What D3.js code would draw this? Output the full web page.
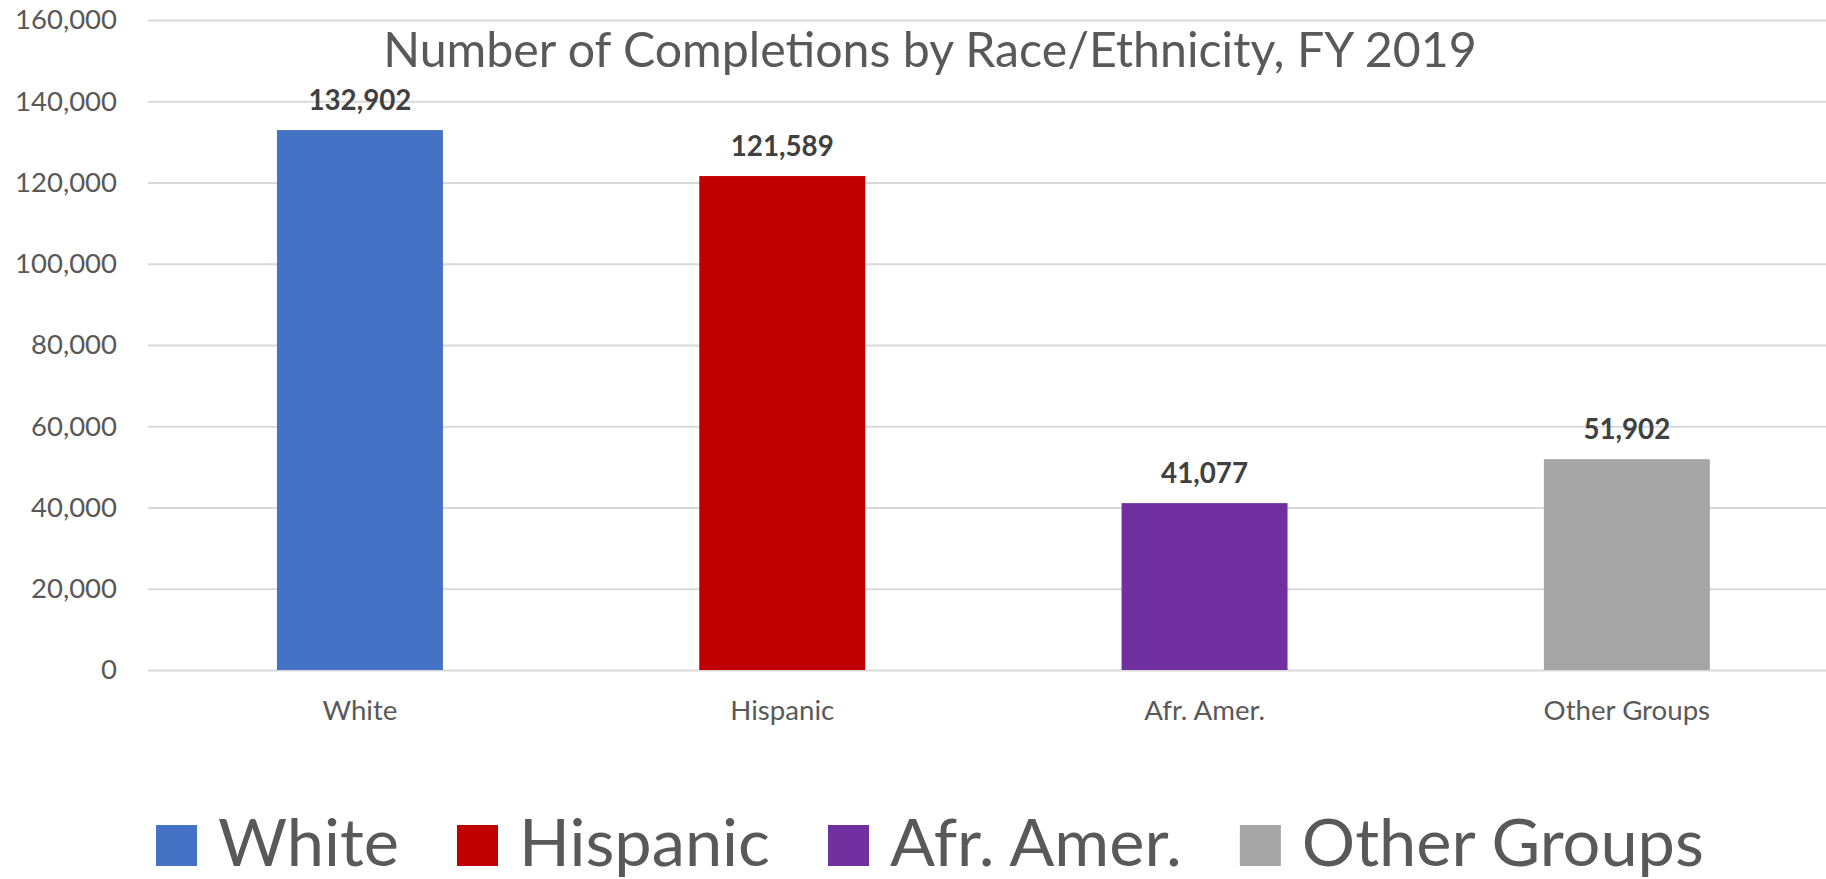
<!DOCTYPE html>
<html>
<head>
<meta charset="utf-8">
<script src="https://cdn.jsdelivr.net/npm/d3@7"></script>
<style>
  html, body { margin: 0; padding: 0; background: #ffffff; }
  svg { display: block; }
</style>
</head>
<body>
<svg id="chart" width="1826" height="879"></svg>
<script>
// ---- Data ----
const categories = ["White", "Hispanic", "Afr. Amer.", "Other Groups"];
const values = [132902, 121589, 41077, 51902];
const colors = ["#4472C4", "#C00000", "#7030A0", "#A5A5A5"];
const yTicks = [0, 20000, 40000, 60000, 80000, 100000, 120000, 140000, 160000];
const titleText = "Number of Completions by Race/Ethnicity, FY 2019";

// ---- Layout ----
const W = 1826, H = 879;
const FONT = "Lato, 'Open Sans', 'Noto Sans', sans-serif";
const plotLeft = 148.8, plotRight = 1838, plotTop = 20, plotBottom = 670;

const svg = d3.select("#chart");

// measure helper: returns font size such that text fits target width
function fitSize(text, weight, targetWidth) {
  const t = svg.append("text")
    .attr("font-family", FONT).attr("font-weight", weight)
    .attr("font-size", 100).text(text);
  const w = t.node().getComputedTextLength();
  t.remove();
  return 100 * targetWidth / w;
}

const x = d3.scaleBand()
  .domain(categories)
  .range([plotLeft, plotRight])
  .paddingInner(0.607)
  .paddingOuter(0.3035);

const y = d3.scaleLinear()
  .domain([0, 160000])
  .range([plotBottom, plotTop]);

// ---- Y axis with gridlines ----
const tickFs = fitSize("160,000", 400, 102);
const yAxis = svg.append("g")
  .attr("transform", `translate(${148},0)`)
  .call(d3.axisLeft(y)
    .tickValues(yTicks)
    .tickSize(-(plotRight - 148))
    .tickPadding(31)
    .tickFormat(d3.format(",")));
yAxis.select(".domain").remove();
yAxis.selectAll(".tick line")
  .attr("stroke", "#d9d9d9")
  .attr("stroke-width", 2);
yAxis.selectAll(".tick text")
  .attr("font-family", FONT)
  .attr("font-size", tickFs)
  .attr("fill", "#595959");

// ---- Title ----
const titleFs = fitSize(titleText, 400, 1094);
svg.append("text")
  .attr("x", 930)
  .attr("y", 67)
  .attr("text-anchor", "middle")
  .attr("font-family", FONT)
  .attr("font-size", titleFs)
  .attr("fill", "#595959")
  .text(titleText);

// ---- Bars ----
svg.append("g").selectAll("rect")
  .data(categories)
  .join("rect")
  .attr("x", d => x(d))
  .attr("y", (d, i) => y(values[i]))
  .attr("width", x.bandwidth())
  .attr("height", (d, i) => y(0) - y(values[i]))
  .attr("fill", (d, i) => colors[i]);

// ---- Data labels ----
const dlFs = fitSize("132,902", 700, 103);
svg.append("g").selectAll("text")
  .data(categories)
  .join("text")
  .attr("x", d => x(d) + x.bandwidth() / 2)
  .attr("y", (d, i) => y(values[i]) - 20)
  .attr("text-anchor", "middle")
  .attr("font-family", FONT)
  .attr("font-weight", 700)
  .attr("font-size", dlFs)
  .attr("fill", "#404040")
  .text((d, i) => d3.format(",")(values[i]));

// ---- X axis ----
const xFs = fitSize("White", 400, 75);
const xAxis = svg.append("g")
  .attr("transform", `translate(0,${plotBottom})`)
  .call(d3.axisBottom(x).tickSize(0));
xAxis.select(".domain").remove();
xAxis.selectAll(".tick text")
  .attr("y", 50)
  .attr("dy", 0)
  .attr("font-family", FONT)
  .attr("font-size", xFs)
  .attr("fill", "#595959");

// ---- Legend ----
const legFs = fitSize("White", 400, 181);
const sq = 41, sqGap = 21, itemGap = 58;
const legend = svg.append("g");
let lx = 156;
categories.forEach((c, i) => {
  legend.append("rect")
    .attr("x", lx).attr("y", 825)
    .attr("width", sq).attr("height", sq)
    .attr("fill", colors[i]);
  const t = legend.append("text")
    .attr("x", lx + sq + sqGap)
    .attr("y", 866)
    .attr("font-family", FONT)
    .attr("font-size", legFs)
    .attr("fill", "#595959")
    .text(c);
  lx = lx + sq + sqGap + t.node().getComputedTextLength() + itemGap;
});
</script>
</body>
</html>
